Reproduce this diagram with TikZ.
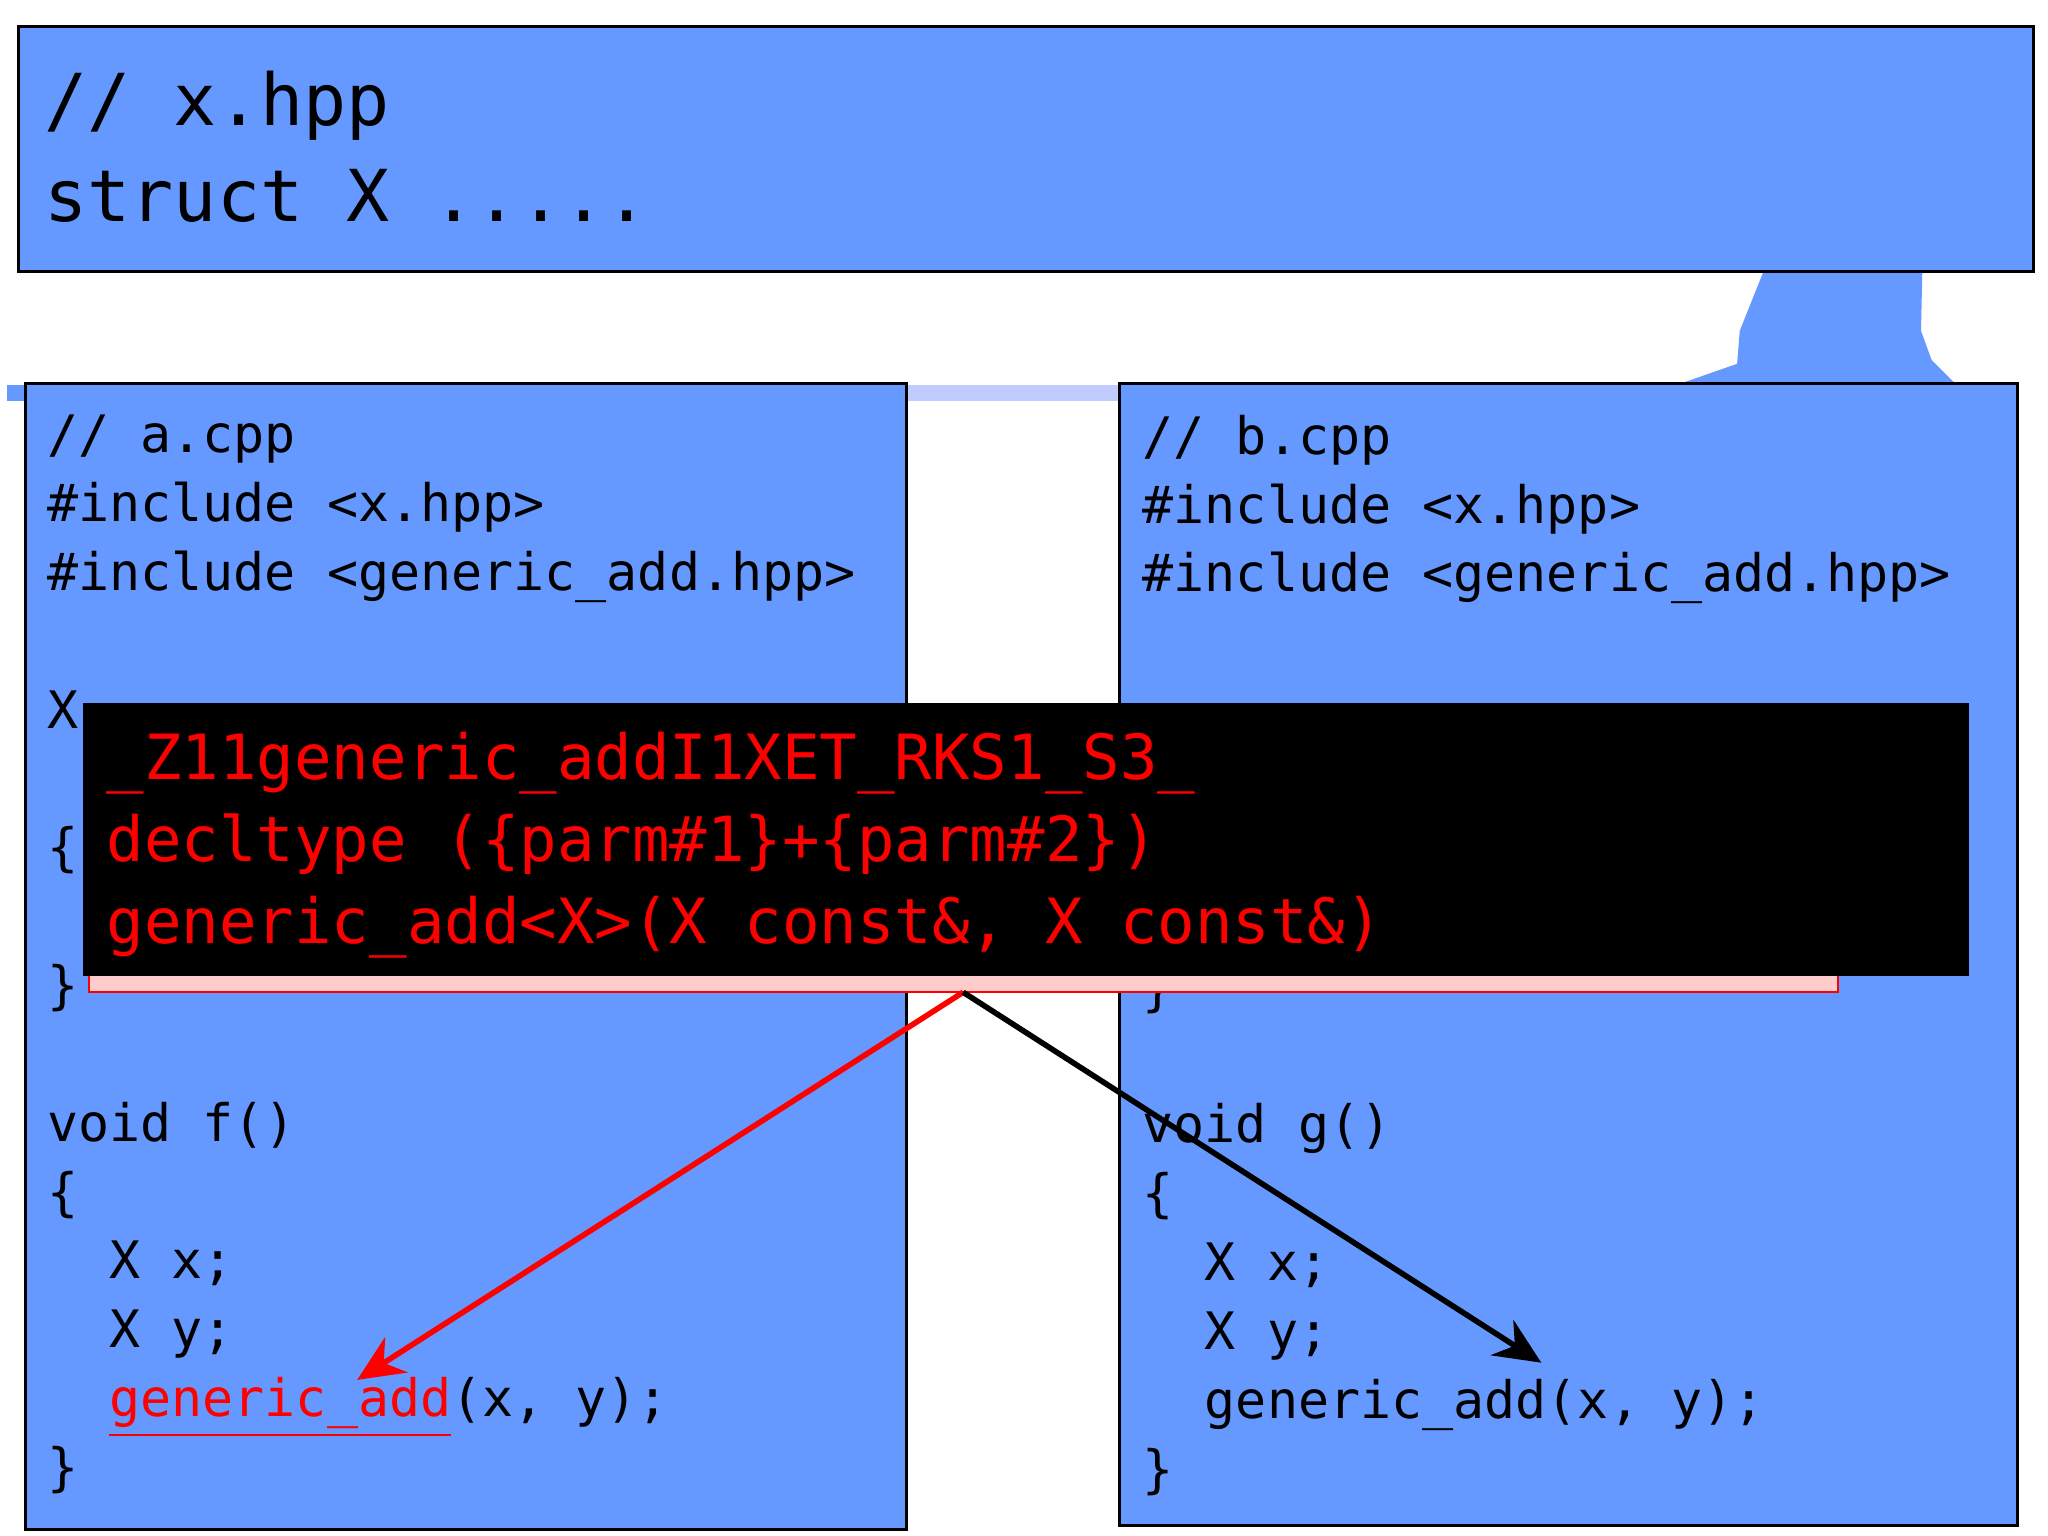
\documentclass[tikz,border=0pt]{standalone}
\usepackage{fontspec}
\newfontfamily\codefont{DejaVu Sans Mono}
\usetikzlibrary{positioning,arrows.meta,fit}
\definecolor{slideblue}{HTML}{6699FF}
\definecolor{stripblue}{HTML}{C0CCFF}
\definecolor{manglepink}{HTML}{FFCCCC}
\newcommand{\codesmall}{\codefont\fontsize{11.1}{14.8}\selectfont}
\newcommand{\codebig}{\codefont\fontsize{15.4}{20.7}\selectfont}
\newcommand{\codemid}{\codefont\fontsize{13.4}{17.6}\selectfont}
\begin{document}
\begin{tikzpicture}[
  x=0.01cm, y=-0.01cm,
  >={Stealth[length=10pt,width=9pt]},
  panel/.style={draw, fill=slideblue, line width=0.6pt, inner sep=0pt},
  codetext/.style={anchor=north west, inner sep=0pt, align=left, font=\codesmall},
  link/.style={->, line width=1.2pt}
]
\useasboundingbox (0,0) rectangle (1548,1161);

% --- background pieces ---
\fill[slideblue] (1333,205) -- (1315,250) -- (1313,275) -- (1270,290) -- (1478,290)
  -- (1460,272) -- (1452,250) -- (1453,205) -- cycle;
\fill[stripblue] (685,291) rectangle (846,303);
\fill[slideblue] (5,291) rectangle (19,303);

% --- header ---
\node[panel, fit={(14,20) (1537,205)}] (hdr) {};
\node[codetext, font=\codebig] (hdrtext) at (33,53) {// x.hpp\\struct X .....};

% --- translation units ---
\node[panel, fit={(19,290) (685,1156)}] (acpp) {};
\node[panel, fit={(846,290) (1525,1153)}] (bcpp) {};

\node[codetext] (atext) at (35,313) {// a.cpp\\\#include <x.hpp>\\\#include <generic\_add.hpp>\\~\\X\\~\\\{\\~\\\}\\~\\void f()\\\{\\
\ \ X x;\\\ \ X y;\\\ \ \textcolor{red}{\underline{generic\_add}}(x, y);\\\}};
\node[codetext] (btext) at (863,313) {// b.cpp\\\#include <x.hpp>\\\#include <generic\_add.hpp>\\~\\~\\~\\~\\~\\\}\\~\\void g()\\\{\\
\ \ X x;\\\ \ X y;\\\ \ generic\_add(x, y);\\\}};

% --- mangled name ---
\node[draw=red, fill=manglepink, inner sep=0pt, fit={(67,540) (1389,750)}] (pink) {};
\node[fill=black, inner sep=0pt, fit={(63,531) (1488,738)}] (mangle) {};
\node[codetext, font=\codemid, text=red] (mangletext) at (80,553)
  {\_Z11generic\_addI1XET\_RKS1\_S3\_\\decltype (\{parm\#1\}+\{parm\#2\})\\generic\_add<X>(X const\&, X const\&)};

\coordinate (src) at (728,750);
\coordinate (acall) at (270,1043);
\coordinate (bcall) at (1165,1030);
\draw[link, red] (src) -- (acall);
\draw[link, black] (src) -- (bcall);
\end{tikzpicture}
\end{document}
